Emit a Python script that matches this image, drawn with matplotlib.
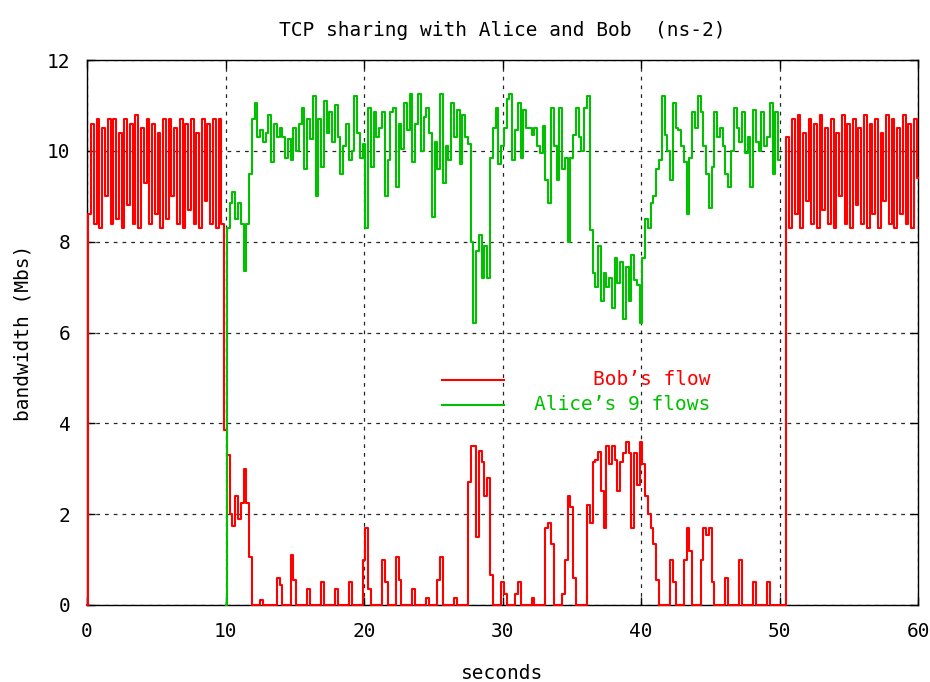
import numpy as np
import matplotlib
matplotlib.use("Agg")
import matplotlib.pyplot as plt

# ---- data (Mbps), sampled every 0.2 s ----
STEP = 0.2

bob_00_10 = [0, 8.6, 10.6, 8.4, 10.7, 8.3, 10.5, 9.0, 10.7, 8.4,
             10.7, 8.5, 10.4, 8.3, 10.7, 8.8, 10.6, 8.4, 10.8, 8.3,
             10.5, 9.3, 10.7, 8.4, 10.6, 8.6, 10.4, 8.3, 10.7, 8.5,
             10.7, 9.0, 10.5, 8.4, 10.7, 8.3, 10.6, 8.7, 10.7, 8.4,
             10.4, 8.3, 10.7, 8.9, 10.6, 8.4, 10.7, 8.3, 10.7, 8.4]
bob_10_20 = [3.85, 3.3, 2.0, 1.75, 2.4, 1.9, 2.25, 3.0, 2.25, 1.05,
             0, 0, 0, 0.1, 0, 0, 0, 0, 0, 0.6,
             0.45, 0, 0, 0, 1.1, 0.55, 0, 0, 0, 0,
             0.35, 0, 0, 0, 0, 0.5, 0, 0, 0, 0,
             0.35, 0, 0, 0, 0, 0.5, 0, 0, 0, 0]
bob_20_30 = [1.0, 1.7, 0.35, 0, 0, 0, 0, 1.0, 0.5, 0,
             0, 0, 1.05, 0.55, 0, 0, 0, 0, 0.35, 0,
             0, 0, 0, 0.15, 0, 0, 0, 0.55, 1.05, 0,
             0, 0, 0, 0.15, 0, 0, 0, 0, 2.7, 3.5,
             3.5, 1.5, 3.4, 3.15, 2.4, 2.8, 0.65, 0, 0, 0]
bob_30_40 = [0.5, 0.25, 0, 0, 0, 0.25, 0.5, 0, 0, 0,
             0, 0.15, 0, 0, 0, 0, 1.7, 1.8, 1.35, 0,
             0, 0, 0.25, 1.0, 2.4, 2.15, 0.6, 0, 0, 0,
             0, 2.2, 1.8, 3.15, 3.2, 3.37, 2.5, 1.7, 3.5, 3.1,
             3.5, 3.2, 2.5, 3.15, 3.35, 3.6, 3.35, 1.7, 3.35, 2.65]
bob_40_50 = [3.6, 3.1, 2.4, 2.0, 1.7, 1.35, 0.55, 0, 0, 0,
             0, 1.0, 0.5, 0, 0, 0, 1.0, 1.7, 1.2, 0,
             0, 0, 1.0, 1.7, 1.55, 1.7, 0.5, 0, 0, 0,
             0, 0.6, 0, 0, 0, 0, 1.0, 0, 0, 0,
             0, 0.5, 0, 0, 0, 0, 0.5, 0, 0, 0]
bob_50_60 = [0, 0, 0, 10.3, 8.3, 10.7, 8.6, 10.8, 8.3, 10.4,
             8.9, 10.7, 8.4, 10.6, 8.3, 10.8, 8.7, 10.5, 8.4, 10.7,
             8.3, 10.4, 9.0, 10.8, 8.4, 10.6, 8.3, 10.7, 8.8, 10.5,
             8.4, 10.8, 8.3, 10.6, 8.6, 10.7, 8.3, 10.4, 8.9, 10.8,
             8.4, 10.7, 8.3, 10.5, 8.6, 10.8, 8.4, 10.6, 8.3, 10.7,
             9.4]

alice_start = 10.0
alice_10_20 = [0, 8.3, 8.85, 9.1, 8.5, 8.85, 8.4, 7.35, 8.4, 9.5,
               10.7, 11.05, 10.3, 10.45, 10.2, 10.4, 10.8, 9.75, 10.6, 10.3,
               10.5, 10.3, 9.85, 10.25, 9.8, 10.5, 10.0, 10.6, 10.95, 9.6,
               10.7, 10.25, 11.2, 9.0, 10.7, 9.65, 11.1, 10.4, 10.85, 10.2,
               11.0, 10.3, 9.5, 10.1, 10.6, 9.8, 10.0, 11.2, 10.4, 9.85]
alice_20_30 = [10.15, 8.3, 10.95, 9.65, 10.85, 10.3, 10.5, 10.85, 9.0, 9.8,
               10.85, 10.95, 9.2, 10.6, 10.05, 11.05, 10.45, 11.25, 9.75, 10.6,
               11.25, 10.0, 10.75, 10.95, 10.4, 8.55, 10.2, 9.6, 11.25, 9.3,
               10.1, 9.8, 11.05, 10.3, 10.9, 9.7, 10.8, 10.3, 10.15, 8.0,
               6.2, 7.8, 8.15, 7.2, 7.9, 7.2, 9.85, 10.5, 10.95, 9.7]
alice_30_40 = [10.1, 10.5, 11.15, 11.25, 9.8, 10.45, 11.05, 9.85, 10.9, 10.5,
               10.5, 10.35, 10.5, 10.1, 9.95, 10.55, 9.35, 8.85, 10.95, 10.1,
               9.35, 10.95, 9.6, 9.85, 8.0, 9.85, 10.35, 10.95, 10.3, 10.0,
               10.95, 11.2, 8.25, 7.3, 7.0, 7.9, 6.7, 7.3, 7.0, 7.2,
               6.55, 7.65, 7.1, 7.55, 6.3, 7.45, 6.7, 7.7, 7.15, 7.05]
alice_40_50 = [6.2, 7.65, 8.5, 8.3, 8.85, 9.0, 9.6, 9.8, 11.2, 10.35,
               10.0, 9.35, 11.05, 10.5, 10.45, 10.1, 9.75, 8.6, 9.85, 10.85,
               10.5, 11.2, 10.85, 10.1, 9.5, 8.75, 9.65, 10.85, 10.3, 10.5,
               10.1, 9.5, 9.2, 10.0, 10.95, 10.5, 10.2, 10.85, 9.95, 10.3,
               9.2, 10.9, 10.2, 10.0, 10.85, 10.1, 10.3, 11.05, 9.5, 10.85,
               9.8]

bob = np.array(bob_00_10 + bob_10_20 + bob_20_30 + bob_30_40 + bob_40_50 + bob_50_60)
alice = np.array(alice_10_20 + alice_20_30 + alice_30_40 + alice_40_50)
bob_t = np.arange(len(bob)) * STEP
alice_t = alice_start + np.arange(len(alice)) * STEP

title = "TCP sharing with Alice and Bob  (ns-2)"
xlabel = "seconds"
ylabel = "bandwidth (Mbs)"
bob_label = "Bob\u2019s flow"
alice_label = "Alice\u2019s 9 flows"
x_ticks = [0, 10, 20, 30, 40, 50, 60]
y_ticks = [0, 2, 4, 6, 8, 10, 12]

RED = "#ff0000"
GREEN = "#00c000"
FONT = "DejaVu Sans Mono"
FS = 14
LW = 1.5

plt.rcParams["font.family"] = [FONT, "DejaVu Sans"]

fig = plt.figure(figsize=(9.30, 6.82), dpi=100)
ax = fig.add_axes([87 / 930, 1 - 605 / 682, (918 - 87) / 930, (605 - 60) / 682])

ax.plot(bob_t, bob, drawstyle="steps-mid", color=RED, lw=LW, zorder=3, clip_on=False)
ax.plot(alice_t, alice, drawstyle="steps-mid", color=GREEN, lw=LW, zorder=3, clip_on=False)

ax.set_xlim(0, 60)
ax.set_ylim(0, 12)
ax.set_xticks(x_ticks)
ax.set_yticks(y_ticks)
ax.tick_params(direction="in", length=6, width=1, top=True, right=True,
               labelsize=FS, colors="black")
ax.tick_params(axis="x", pad=12)
ax.tick_params(axis="y", pad=12)
ax.grid(True, color="black", linestyle=(0, (3, 4)), lw=0.9, alpha=0.85)
for s in ax.spines.values():
    s.set_linewidth(1.0)
    s.set_color("black")
    s.set_zorder(2.5)

ax.set_title(title, fontsize=FS, pad=17)
ax.set_xlabel(xlabel, fontsize=FS, labelpad=17)
ax.set_ylabel(ylabel, fontsize=FS, labelpad=10)

# gnuplot-style key: sample line at left, right-justified label text
key_x0, key_x1, key_text_x = 0.427, 0.502, 0.750
for yk, col, lab in [(0.413, RED, bob_label), (0.367, GREEN, alice_label)]:
    ax.plot([key_x0, key_x1], [yk, yk], color=col, lw=LW, transform=ax.transAxes)
    ax.text(key_text_x, yk, lab, color=col, fontsize=FS, ha="right", va="center",
            transform=ax.transAxes)

fig.savefig("out.png", dpi=100)
